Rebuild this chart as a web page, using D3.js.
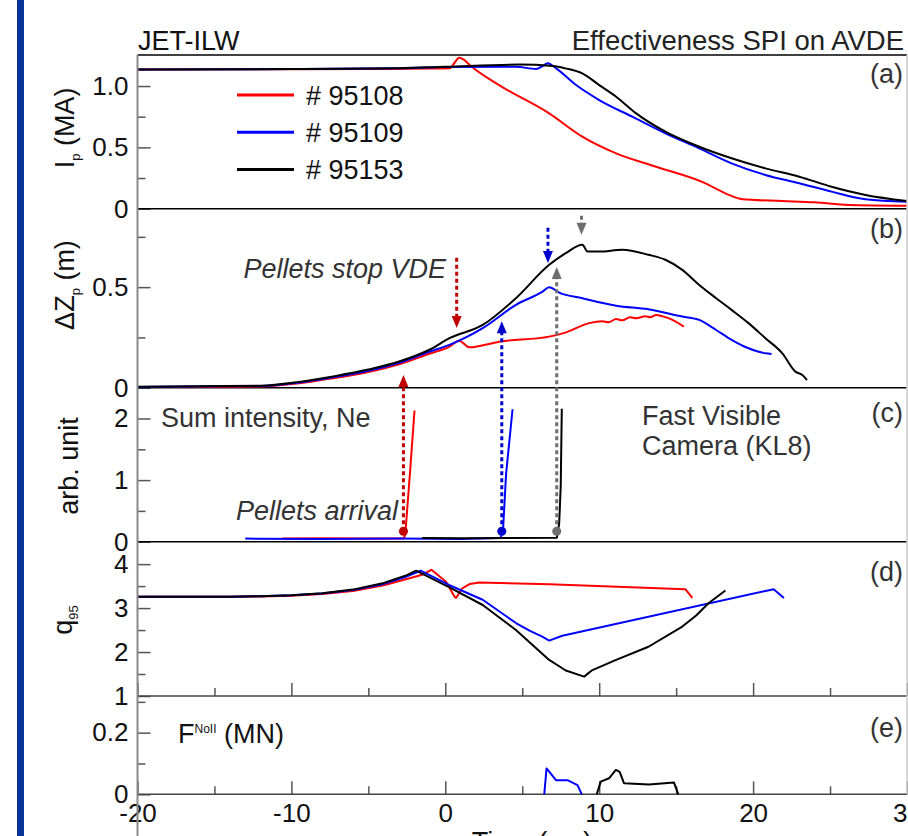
<!DOCTYPE html>
<html>
<head>
<meta charset="utf-8">
<script src="https://cdn.jsdelivr.net/npm/d3@7"></script>
<style>
  body { margin: 0; background: #fff; }
  svg text { font-family: "Liberation Sans", Arial, sans-serif; }
</style>
</head>
<body>
<svg id="chart" width="908" height="836"></svg>
<script>
// ---- data (time in ms) ----
const shots = ["# 95108", "# 95109", "# 95153"];
const shotColors = ["#ff0000", "#0000ff", "#000000"];
const arrowColors = ["#c00000", "#0000cc", "#6e6e6e"];

const xMajor = [-20, -10, 0, 10, 20, 30];
const xMinor = [-15, -5, 5, 15, 25];

// (a) plasma current Ip (MA)
const ip95108 = [[-20,1.135],[-15,1.136],[-10,1.137],[-5,1.139],[-1,1.142],[0.3,1.145],[0.6,1.19],[0.9,1.23],[1.2,1.215],[1.6,1.17],[3.5,1.007],[6.75,0.777],[8.9,0.587],[11.1,0.451],[13.7,0.342],[16.9,0.207],[18.2,0.125],[19.3,0.077],[21.9,0.063],[24,0.052],[26.2,0.03],[30,0.024]];
const ip95109 = [[-20,1.135],[-10,1.138],[-3,1.145],[0,1.155],[4.6,1.157],[5.9,1.139],[6.3,1.16],[6.64,1.185],[7.2,1.144],[8.5,1.008],[10,0.886],[12.15,0.75],[14.3,0.615],[16.5,0.492],[18.6,0.37],[20.8,0.275],[23,0.207],[25.1,0.139],[27.3,0.077],[30,0.057]];
const ip95153 = [[-20,1.135],[-10,1.138],[-3,1.145],[0,1.157],[4.8,1.175],[7,1.163],[7.8,1.144],[8.9,1.103],[10,1.008],[11.1,0.913],[12.4,0.777],[14.3,0.628],[16.5,0.505],[18.6,0.411],[20.8,0.329],[23,0.261],[25.1,0.179],[27.3,0.112],[30,0.063]];

// (b) vertical displacement dZp (m)
const dz95108 = [[-20,0.004],[-15,0.004],[-12,0.006],[-9.5,0.022],[-7.3,0.047],[-5,0.078],[-3,0.116],[-1,0.17],[0.27,0.204],[0.9,0.234],[1.56,0.201],[3.5,0.229],[6.75,0.254],[7.8,0.274],[9.35,0.321],[10.2,0.33],[10.6,0.325],[11.1,0.341],[11.5,0.335],[12,0.35],[12.4,0.345],[13,0.355],[13.3,0.35],[13.7,0.362],[14.1,0.355],[14.5,0.346],[15.5,0.304]];
const dz95109 = [[-20,0.004],[-12,0.008],[-9.5,0.026],[-7.3,0.052],[-5,0.084],[-3,0.124],[-1,0.18],[0.27,0.213],[2.43,0.296],[4.59,0.412],[6.32,0.478],[6.75,0.5],[7.4,0.473],[8.9,0.445],[11.1,0.408],[13.2,0.39],[15.4,0.354],[16.5,0.337],[17.6,0.287],[18.6,0.238],[19.7,0.196],[20.8,0.171],[21.2,0.168]];
const dz95153 = [[-20,0.005],[-12,0.01],[-9.5,0.029],[-7.3,0.056],[-5,0.09],[-3,0.13],[-1,0.19],[0.27,0.246],[2.43,0.312],[4.59,0.445],[6.75,0.611],[7.83,0.669],[8.91,0.711],[9.24,0.677],[10,0.677],[11.5,0.686],[13.2,0.661],[14.3,0.636],[15.4,0.586],[16.5,0.511],[17.6,0.445],[18.6,0.387],[19.7,0.321],[20.8,0.246],[21.9,0.171],[22.75,0.08],[23.2,0.063],[23.5,0.038]];

// (c) fast camera sum intensity, Ne (arb. unit)
const ne95108 = [[-10.6,0.05],[-8,0.055],[-5,0.05],[-2.7,0.05],[-2.6,0.12],[-2.3,1.1],[-2.0,2.13]];
const ne95109 = [[-13,0.05],[-8,0.045],[-3,0.05],[1,0.045],[3.6,0.06],[3.75,0.19],[3.95,1.1],[4.37,2.15]];
const ne95153 = [[-1.5,0.06],[1,0.055],[4,0.06],[7.25,0.065],[7.4,0.3],[7.5,0.9],[7.57,2.16]];

// (d) safety factor q95
const q95108 = [[-20,3.26],[-14,3.26],[-12,3.265],[-10,3.28],[-8,3.32],[-6,3.39],[-4,3.52],[-2.5,3.66],[-1.5,3.76],[-0.9,3.87],[0.05,3.6],[0.6,3.26],[0.7,3.23],[1.1,3.45],[1.6,3.55],[2.2,3.58],[6.75,3.54],[15.6,3.43],[16.05,3.23]];
const q95109 = [[-20,3.26],[-14,3.26],[-12,3.27],[-10,3.29],[-8,3.33],[-6,3.41],[-4,3.55],[-2.5,3.72],[-1.6,3.85],[0.27,3.52],[2.43,3.19],[4.59,2.66],[5.5,2.48],[6.3,2.35],[6.75,2.26],[7.6,2.37],[21.34,3.43],[22,3.23]];
const q95153 = [[-20,3.26],[-14,3.26],[-12,3.27],[-10,3.29],[-8,3.34],[-6,3.42],[-4,3.57],[-2.5,3.75],[-1.9,3.85],[0.27,3.47],[2.43,3.07],[4.59,2.5],[6.75,1.82],[7.83,1.58],[9.02,1.44],[9.3,1.52],[9.56,1.59],[11.1,1.82],[13.2,2.12],[15.4,2.58],[16.3,2.83],[17.1,3.11],[18.2,3.4]];

// (e) Noll force (MN)
const f95109 = [[6.43,0],[6.58,0.084],[7.19,0.046],[7.94,0.046],[8.59,0.03],[8.87,0]];
const f95153 = [[9.84,0],[10.1,0.041],[10.64,0.052],[11.08,0.079],[11.33,0.073],[11.61,0.036],[13.24,0.032],[14.86,0.038],[15.14,0]];

// arrows: pellets stop VDE (panel b) and pellets arrival (dot in c, tip in b)
const stopTimes = [0.74, 6.67, 8.85];
const stopFrom = [0.646, 0.795, 0.855];
const stopTo = [0.297, 0.62, 0.76];
const arrivalTimes = [-2.72, 3.67, 7.24];
const arrivalDot = [0.17, 0.17, 0.17];
const arrivalTip = [0.063, 0.33, 0.6];

// ---- layout ----
const X0 = 137.5, X1 = 907;
const svg = d3.select("#chart");
const x = d3.scaleLinear().domain([-20, 30]).range([X0, X1]);

const panels = [
  {tag: "(a)", top: 55, bottom: 208.7, domain: [0, 1.253], major: [0, 0.5, 1.0], labels: ["0", "0.5", "1.0"], minor: [0.25, 0.75], tagY: 83, smooth: true, series: [ip95108, ip95109, ip95153]},
  {tag: "(b)", top: 208.7, bottom: 387.7, domain: [0, 0.89], major: [0, 0.5], labels: ["0", "0.5"], minor: [0.25, 0.75], tagY: 238, smooth: true, series: [dz95108, dz95109, dz95153]},
  {tag: "(c)", top: 387.7, bottom: 541.7, domain: [0, 2.5], major: [0, 1, 2], labels: ["0", "1", "2"], minor: [0.5, 1.5], tagY: 422, smooth: false, series: [ne95108, ne95109, ne95153]},
  {tag: "(d)", top: 541.7, bottom: 696, domain: [1, 4.51], major: [1, 2, 3, 4], labels: ["1", "2", "3", "4"], minor: [1.5, 2.5, 3.5], tagY: 581, smooth: false, series: [q95108, q95109, q95153]},
  {tag: "(e)", top: 696, bottom: 794.3, domain: [0, 0.319], major: [0, 0.2], labels: ["0", "0.2"], minor: [0.1, 0.3], tagY: 737, smooth: false, series: [null, f95109, f95153]}
];

// left blue bar
svg.append("rect").attr("x", 17).attr("y", 0).attr("width", 7).attr("height", 836).attr("fill", "#0a3399");

function styleAxis(g, size) {
  g.attr("font-family", null).attr("font-size", null);
  g.select(".domain").remove();
  g.selectAll("line").attr("stroke", "#555").attr("stroke-width", 1.5);
  g.selectAll("text").attr("fill", "#111").style("font-size", size + "px");
}

panels.forEach((p, pi) => {
  const y = d3.scaleLinear().domain(p.domain).range([p.bottom, p.top]);
  p.y = y;
  const g = svg.append("g");

  // y ticks, inward
  g.append("g").attr("transform", `translate(${X0},0)`)
    .call(d3.axisLeft(y).tickValues(p.major).tickFormat((d, i) => p.labels[i]).tickSize(-13).tickPadding(9))
    .call(a => styleAxis(a, 26));
  g.append("g").attr("transform", `translate(${X0},0)`)
    .call(d3.axisLeft(y).tickValues(p.minor).tickFormat("").tickSize(-8))
    .call(a => styleAxis(a, 26));

  // bottom line of the panel
  if (pi < 3) {
    g.append("line").attr("x1", X0).attr("x2", X1).attr("y1", p.bottom).attr("y2", p.bottom)
      .attr("stroke", "#000").attr("stroke-width", 1.5);
  } else {
    g.append("g").attr("transform", `translate(0,${p.bottom})`)
      .call(d3.axisBottom(x).tickValues(xMajor).tickFormat(pi === 4 ? (d => String(d)) : "").tickSize(-13).tickPadding(9))
      .call(a => styleAxis(a, 26))
      .call(a => a.selectAll("text").attr("dy", "0.72em"));
    g.append("g").attr("transform", `translate(0,${p.bottom})`)
      .call(d3.axisBottom(x).tickValues(xMinor).tickFormat("").tickSize(-8))
      .call(a => styleAxis(a, 26));
    g.append("line").attr("x1", X0).attr("x2", X1).attr("y1", p.bottom).attr("y2", p.bottom)
      .attr("stroke", "#444").attr("stroke-width", 1.5);
  }

  // curves
  const line = d3.line().x(d => x(d[0])).y(d => y(d[1]))
    .curve(p.smooth ? d3.curveMonotoneX : d3.curveLinear);
  p.series.forEach((s, si) => {
    if (!s) return;
    g.append("path").datum(s).attr("d", line)
      .attr("fill", "none").attr("stroke", shotColors[si]).attr("stroke-width", 2)
      .attr("stroke-linejoin", "round");
  });

  // panel tag
  svg.append("text").attr("x", 903).attr("y", p.tagY).attr("text-anchor", "end")
    .attr("fill", "#333").style("font-size", "27px").text(p.tag);
});

// frame lines
svg.append("line").attr("x1", X0).attr("x2", X1).attr("y1", 55).attr("y2", 55).attr("stroke", "#000").attr("stroke-width", 1.5);
svg.append("line").attr("x1", X1).attr("x2", X1).attr("y1", 55).attr("y2", 794).attr("stroke", "#ccc").attr("stroke-width", 1.5);
svg.append("line").attr("x1", X0).attr("x2", X0).attr("y1", 55).attr("y2", 836).attr("stroke", "#8a8a8a").attr("stroke-width", 2);

// arrows
const yb = panels[1].y, yc = panels[2].y;
function arrowHead(xp, yp, dir, color) {
  // dir = +1 pointing down, -1 pointing up
  const w = 5, l = 12;
  svg.append("path")
    .attr("d", `M${xp - w},${yp - dir * l}L${xp + w},${yp - dir * l}L${xp},${yp}Z`)
    .attr("fill", color);
}
stopTimes.forEach((t, i) => {
  const xp = x(t);
  svg.append("line").attr("x1", xp).attr("x2", xp).attr("y1", yb(stopFrom[i])).attr("y2", yb(stopTo[i]) - 10)
    .attr("stroke", arrowColors[i]).attr("stroke-width", 3).attr("stroke-dasharray", "4,3");
  arrowHead(xp, yb(stopTo[i]), 1, arrowColors[i]);
});
arrivalTimes.forEach((t, i) => {
  const xp = x(t);
  svg.append("line").attr("x1", xp).attr("x2", xp).attr("y1", yc(arrivalDot[i])).attr("y2", yb(arrivalTip[i]) + 10)
    .attr("stroke", arrowColors[i]).attr("stroke-width", 3).attr("stroke-dasharray", "4,3");
  arrowHead(xp, yb(arrivalTip[i]), -1, arrowColors[i]);
  svg.append("circle").attr("cx", xp).attr("cy", yc(arrivalDot[i])).attr("r", 4.5).attr("fill", arrowColors[i]);
});

// legend
shots.forEach((s, i) => {
  const yy = 95 + i * 37.2;
  svg.append("line").attr("x1", 237).attr("x2", 294).attr("y1", yy).attr("y2", yy)
    .attr("stroke", shotColors[i]).attr("stroke-width", 3);
  svg.append("text").attr("x", 306).attr("y", yy + 9.5).attr("fill", "#111")
    .style("font-size", "27px").text(s);
});

// titles and annotations
function label(txt, xp, yp, opts = {}) {
  return svg.append("text").attr("x", xp).attr("y", yp)
    .attr("text-anchor", opts.anchor || "start")
    .attr("fill", opts.fill || "#333")
    .style("font-size", (opts.size || 27) + "px")
    .style("font-style", opts.italic ? "italic" : "normal")
    .text(txt);
}
label("JET-ILW", 138, 50, {fill: "#111"});
label("Effectiveness SPI on AVDE", 904, 50, {anchor: "end", fill: "#222", size: 27.5});
label("Pellets stop VDE", 446, 278, {anchor: "end", italic: true});
label("Sum intensity, Ne", 161, 427);
label("Pellets arrival", 398, 520, {anchor: "end", italic: true});
label("Fast Visible", 642, 425);
label("Camera (KL8)", 642, 455);
label("Time (ms)", 532, 851, {anchor: "middle", fill: "#111"});

const fl = svg.append("text").attr("x", 178).attr("y", 743).attr("fill", "#111").style("font-size", "27px");
fl.append("tspan").text("F");
fl.append("tspan").attr("dy", -10).style("font-size", "12px").text("NoII");
fl.append("tspan").attr("dy", 10).text(" (MN)");

// rotated y-axis titles
function ytitle(parts, cx, cy) {
  const t = svg.append("text").attr("transform", `translate(${cx},${cy}) rotate(-90)`)
    .attr("text-anchor", "middle").attr("fill", "#111").style("font-size", "27px");
  parts.forEach(pt => {
    const sp = t.append("tspan").text(pt.t);
    if (pt.sub) sp.style("font-size", "13px").attr("dy", 6);
    if (pt.back) sp.attr("dy", -6);
  });
}
ytitle([{t: "I"}, {t: "p", sub: true}, {t: " (MA)", back: true}], 74, 128);
ytitle([{t: "\u0394Z"}, {t: "p", sub: true}, {t: " (m)", back: true}], 74, 285);
ytitle([{t: "arb. unit"}], 78, 466);
ytitle([{t: "q"}, {t: "95", sub: true}], 72, 620);
</script>
</body>
</html>
